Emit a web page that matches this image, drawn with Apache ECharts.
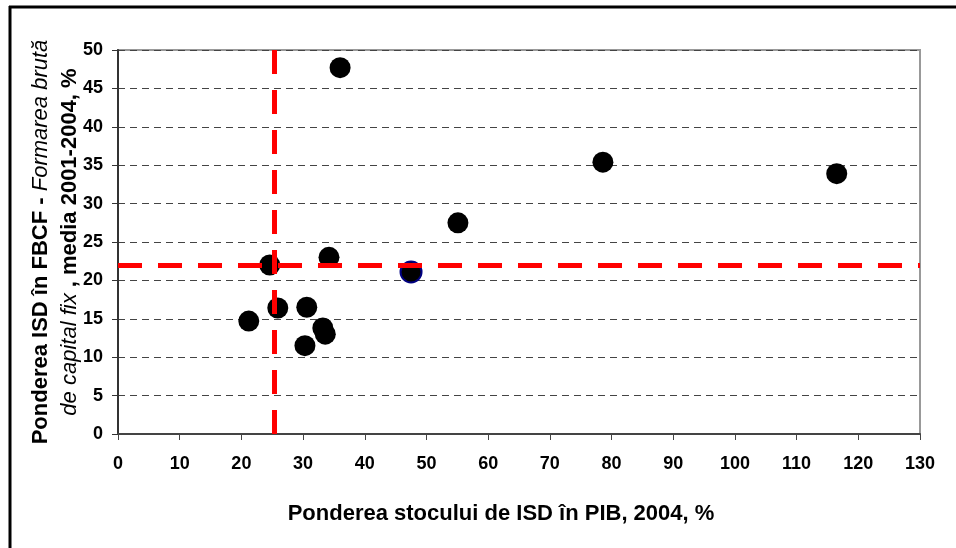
<!DOCTYPE html>
<html><head><meta charset="utf-8">
<script src="https://cdn.jsdelivr.net/npm/echarts@6/dist/echarts.min.js"></script>
<style>html,body{margin:0;padding:0;background:#fff}#c{width:956px;height:548px}</style>
</head><body><div id="c"></div>
<script>
// Data: x = Ponderea stocului de ISD în PIB (2004, %), y = Ponderea ISD în FBCF (media 2001-2004, %)
const xValues = [36.0, 78.6, 116.5, 55.1, 34.2, 24.6, 47.5, 25.9, 30.6, 21.2, 33.2, 33.6, 30.3];
const yValues = [47.7, 35.4, 33.9, 27.5, 23.0, 22.0, 21.1, 16.4, 16.5, 14.7, 13.8, 13.0, 11.5];
const highlightIndex = [6]; // point with blue outline
const avgX = 25.4;
const avgY = 22.0;
const xTicks = {min: 0, max: 130, interval: 10};
const yTicks = {min: 0, max: 50, interval: 5};

const font = '"Liberation Sans", Arial, sans-serif';
const data = xValues.map((x, i) => {
  const d = {value: [x, yValues[i]]};
  if (highlightIndex.includes(i)) d.itemStyle = {borderColor: '#000080', borderWidth: 2};
  return d;
});

const chart = echarts.init(document.getElementById('c'), null, {renderer: 'canvas'});
chart.setOption({
  animation: false,
  backgroundColor: '#fff',
  grid: {left: 118, right: 36, top: 50, bottom: 114, show: true, borderColor: '#999', borderWidth: 2, backgroundColor: 'transparent'},
  graphic: [
    {type: 'line', shape: {x1: 9, y1: 7, x2: 956, y2: 7}, style: {stroke: '#000', lineWidth: 3}},
    {type: 'line', shape: {x1: 10, y1: 6, x2: 10, y2: 548}, style: {stroke: '#000', lineWidth: 3}}
  ],
  xAxis: {
    type: 'value', min: xTicks.min, max: xTicks.max, interval: xTicks.interval,
    axisLine: {show: true, onZero: false, lineStyle: {color: '#444', width: 2}},
    axisTick: {show: true, length: 6, lineStyle: {color: '#444'}},
    splitLine: {show: false},
    axisLabel: {fontFamily: font, fontWeight: 'bold', fontSize: 18, color: '#000', margin: 21},
    name: 'Ponderea stocului de ISD în PIB, 2004, %',
    nameLocation: 'middle', nameGap: 69, nameMoveOverlap: false,
    nameTextStyle: {fontFamily: font, fontWeight: 'bold', fontSize: 22, color: '#000', padding: [0, 36, 0, 0]}
  },
  yAxis: {
    type: 'value', min: yTicks.min, max: yTicks.max, interval: yTicks.interval,
    axisLine: {show: true, onZero: false, lineStyle: {color: '#333', width: 2}},
    axisTick: {show: true, length: 6, lineStyle: {color: '#333'}},
    splitLine: {show: true, lineStyle: {color: '#444', type: [7, 5], width: 1}},
    axisLabel: {fontFamily: font, fontWeight: 'bold', fontSize: 18, color: '#000', margin: 15},
    name: '{b|Ponderea ISD în FBCF - }{i|Formarea brută}\n{i|de capital fix}{b| , media 2001-2004, %}',
    nameLocation: 'middle', nameGap: 34, nameRotate: 90, nameMoveOverlap: false,
    nameTextStyle: {
      fontFamily: font, fontSize: 22, color: '#000', lineHeight: 29,
      rich: {
        b: {fontFamily: font, fontWeight: 'bold', fontSize: 22, color: '#000', lineHeight: 29},
        i: {fontFamily: font, fontStyle: 'italic', fontWeight: 'normal', fontSize: 22, color: '#000', lineHeight: 29}
      }
    }
  },
  series: [{
    type: 'scatter',
    symbol: 'circle', symbolSize: 21,
    itemStyle: {color: '#000', opacity: 1},
    data: data,
    z: 3,
    markLine: {
      silent: true, symbol: 'none', z: 5,
      label: {show: false},
      lineStyle: {color: '#ff0000', width: 5, type: [24, 16], opacity: 1},
      data: [{xAxis: avgX}, {yAxis: avgY}]
    }
  }]
});
</script></body></html>
